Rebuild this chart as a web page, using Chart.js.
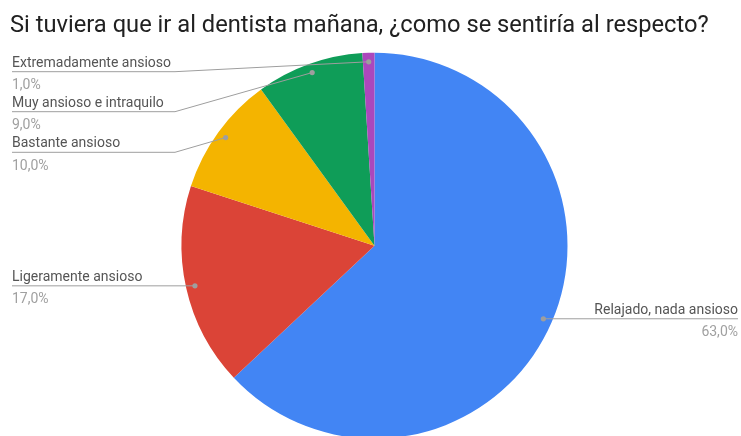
<!DOCTYPE html>
<html>
<head>
<meta charset="utf-8">
<script src="https://cdn.jsdelivr.net/npm/chart.js@4.4.0/dist/chart.umd.min.js"></script>
<style>
  html, body { margin: 0; padding: 0; background: #fff; overflow: hidden; }
  #wrap { width: 741px; height: 440px; }
</style>
</head>
<body>
<div id="wrap"><canvas id="c" width="741" height="440"></canvas></div>
<script>
const chartTitle = 'Si tuviera que ir al dentista mañana, ¿como se sentiría al respecto?';
const categories = [
  'Relajado, nada ansioso',
  'Ligeramente ansioso',
  'Bastante ansioso',
  'Muy ansioso e intraquilo',
  'Extremadamente ansioso'
];
const shares = [63, 17, 10, 9, 1];
const valueLabels = ['63,0%', '17,0%', '10,0%', '9,0%', '1,0%'];
const sliceColors = ['#4285F4', '#DB4437', '#F4B400', '#0F9D58', '#AB47BC'];

// Label placement: side of the chart and the y of the underline (null = follow the dot)
const labelLayout = [
  { side: 'right', lineY: null },
  { side: 'left',  lineY: null },
  { side: 'left',  lineY: 152.3 },
  { side: 'left',  lineY: 111.7 },
  { side: 'left',  lineY: 71.7 }
];

const calloutPlugin = {
  id: 'callouts',
  afterDraw(chart) {
    const ctx = chart.ctx;
    const meta = chart.getDatasetMeta(0);
    ctx.save();

    // title
    ctx.fillStyle = '#212121';
    ctx.font = '23.7px Roboto';
    ctx.textBaseline = 'alphabetic';
    ctx.textAlign = 'left';
    ctx.fillText(chartTitle, 10, 32);

    meta.data.forEach((arc, i) => {
      const mid = (arc.startAngle + arc.endAngle) / 2;
      const rr = arc.outerRadius - 9;
      const dx = arc.x + Math.cos(mid) * rr;
      const dy = arc.y + Math.sin(mid) * rr;
      const lay = labelLayout[i];
      const ly = lay.lineY == null ? dy : lay.lineY;

      ctx.strokeStyle = '#9e9e9e';
      ctx.lineWidth = 1;
      ctx.beginPath();
      if (lay.side === 'left') {
        ctx.moveTo(12, ly);
        if (lay.lineY == null) {
          ctx.lineTo(dx, dy);
        } else {
          ctx.lineTo(175, ly);
          ctx.lineTo(dx, dy);
        }
      } else {
        ctx.moveTo(dx, dy);
        ctx.lineTo(738, ly);
      }
      ctx.stroke();

      ctx.fillStyle = '#9e9e9e';
      ctx.beginPath();
      ctx.arc(dx, dy, 2.6, 0, Math.PI * 2);
      ctx.fill();

      ctx.font = '14px Roboto';
      ctx.textAlign = lay.side === 'left' ? 'left' : 'right';
      const tx = lay.side === 'left' ? 12 : 738;
      ctx.fillStyle = '#555555';
      ctx.fillText(categories[i], tx, ly - 5);
      ctx.fillStyle = '#a0a0a0';
      ctx.fillText(valueLabels[i], tx, ly + 17.5);
    });
    ctx.restore();
  }
};

new Chart(document.getElementById('c'), {
  type: 'pie',
  data: {
    labels: categories,
    datasets: [{
      data: shares,
      backgroundColor: sliceColors,
      borderWidth: 0,
      hoverOffset: 0
    }]
  },
  options: {
    responsive: false,
    animation: false,
    devicePixelRatio: 1,
    layout: { padding: { left: 181.5, right: 173.5, top: 52.7, bottom: 1.3 } },
    plugins: {
      legend: { display: false },
      tooltip: { enabled: false },
      title: { display: false }
    }
  },
  plugins: [calloutPlugin]
});
</script>
</body>
</html>
